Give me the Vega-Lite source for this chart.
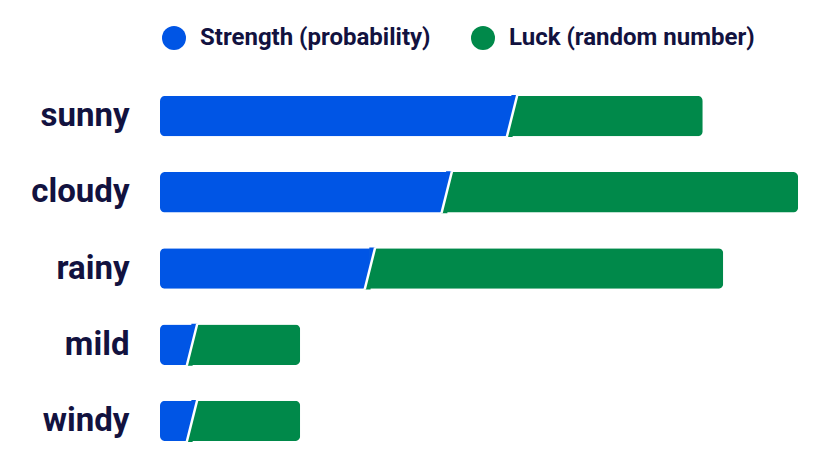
{
  "$schema": "https://vega.github.io/schema/vega-lite/v6.json",
  "width": 640,
  "height": 381,
  "autosize": "none",
  "padding": {"left": 160, "top": 78, "right": 36, "bottom": 12},
  "background": "white",
  "config": {"view": {"stroke": null}, "font": "Roboto"},
  "data": {
    "values": [
      {"weather": "sunny", "component": "Strength (probability)", "idx": 0, "value": 55.0},
      {"weather": "sunny", "component": "Luck (random number)", "idx": 1, "value": 29.8},
      {"weather": "cloudy", "component": "Strength (probability)", "idx": 0, "value": 44.8},
      {"weather": "cloudy", "component": "Luck (random number)", "idx": 1, "value": 54.9},
      {"weather": "rainy", "component": "Strength (probability)", "idx": 0, "value": 32.8},
      {"weather": "rainy", "component": "Luck (random number)", "idx": 1, "value": 55.2},
      {"weather": "mild", "component": "Strength (probability)", "idx": 0, "value": 5.0},
      {"weather": "mild", "component": "Luck (random number)", "idx": 1, "value": 16.9},
      {"weather": "windy", "component": "Strength (probability)", "idx": 0, "value": 5.0},
      {"weather": "windy", "component": "Luck (random number)", "idx": 1, "value": 16.9}
    ]
  },
  "encoding": {
    "y": {
      "field": "weather", "type": "nominal",
      "sort": ["sunny", "cloudy", "rainy", "mild", "windy"],
      "scale": {"paddingInner": 0.47, "paddingOuter": 0.235},
      "axis": {
        "title": null, "domain": false, "ticks": false, "labelPadding": 31,
        "labelFontSize": 33, "labelFontWeight": "bold", "labelColor": "#12123f", "labelFont": "Roboto"
      }
    }
  },
  "layer": [
    {
      "mark": {"type": "bar", "cornerRadius": 5},
      "encoding": {
        "x": {"field": "value", "type": "quantitative", "stack": "zero", "scale": {"domain": [0, 100], "nice": false}, "axis": null},
        "color": {
          "field": "component", "type": "nominal",
          "scale": {"domain": ["Strength (probability)", "Luck (random number)"], "range": ["#0055e5", "#00894a"]},
          "legend": {
            "title": null, "orient": "none", "direction": "horizontal", "legendX": 2, "legendY": -52,
            "symbolType": "circle", "symbolSize": 576, "symbolStrokeWidth": 0, "symbolOpacity": 1,
            "labelFontSize": 24, "labelFontWeight": "bold", "labelColor": "#12123f", "labelFont": "Roboto",
            "labelOffset": 14, "columnPadding": 40, "labelLimit": 0
          }
        },
        "order": {"field": "idx", "type": "quantitative"}
      }
    },
    {
      "transform": [{"filter": "datum.idx == 0"}],
      "mark": {"type": "point", "filled": true, "opacity": 1, "color": "#0055e5", "strokeWidth": 0, "shape": "M -0.03 -1 L 0.25 -1 L -0.03 0.06 Z", "size": 1764},
      "encoding": {"x": {"field": "value", "type": "quantitative"}}
    },
    {
      "transform": [{"filter": "datum.idx == 0"}],
      "mark": {"type": "point", "filled": true, "opacity": 1, "color": "#00894a", "strokeWidth": 0, "shape": "M 0.03 1 L -0.25 1 L 0.03 -0.06 Z", "size": 1764},
      "encoding": {"x": {"field": "value", "type": "quantitative"}}
    },
    {
      "transform": [{"filter": "datum.idx == 0"}],
      "mark": {"type": "point", "filled": false, "opacity": 1, "stroke": "white", "strokeWidth": 2.5, "shape": "M 0.25 -1 L -0.25 1", "size": 1764},
      "encoding": {"x": {"field": "value", "type": "quantitative"}}
    }
  ]
}
